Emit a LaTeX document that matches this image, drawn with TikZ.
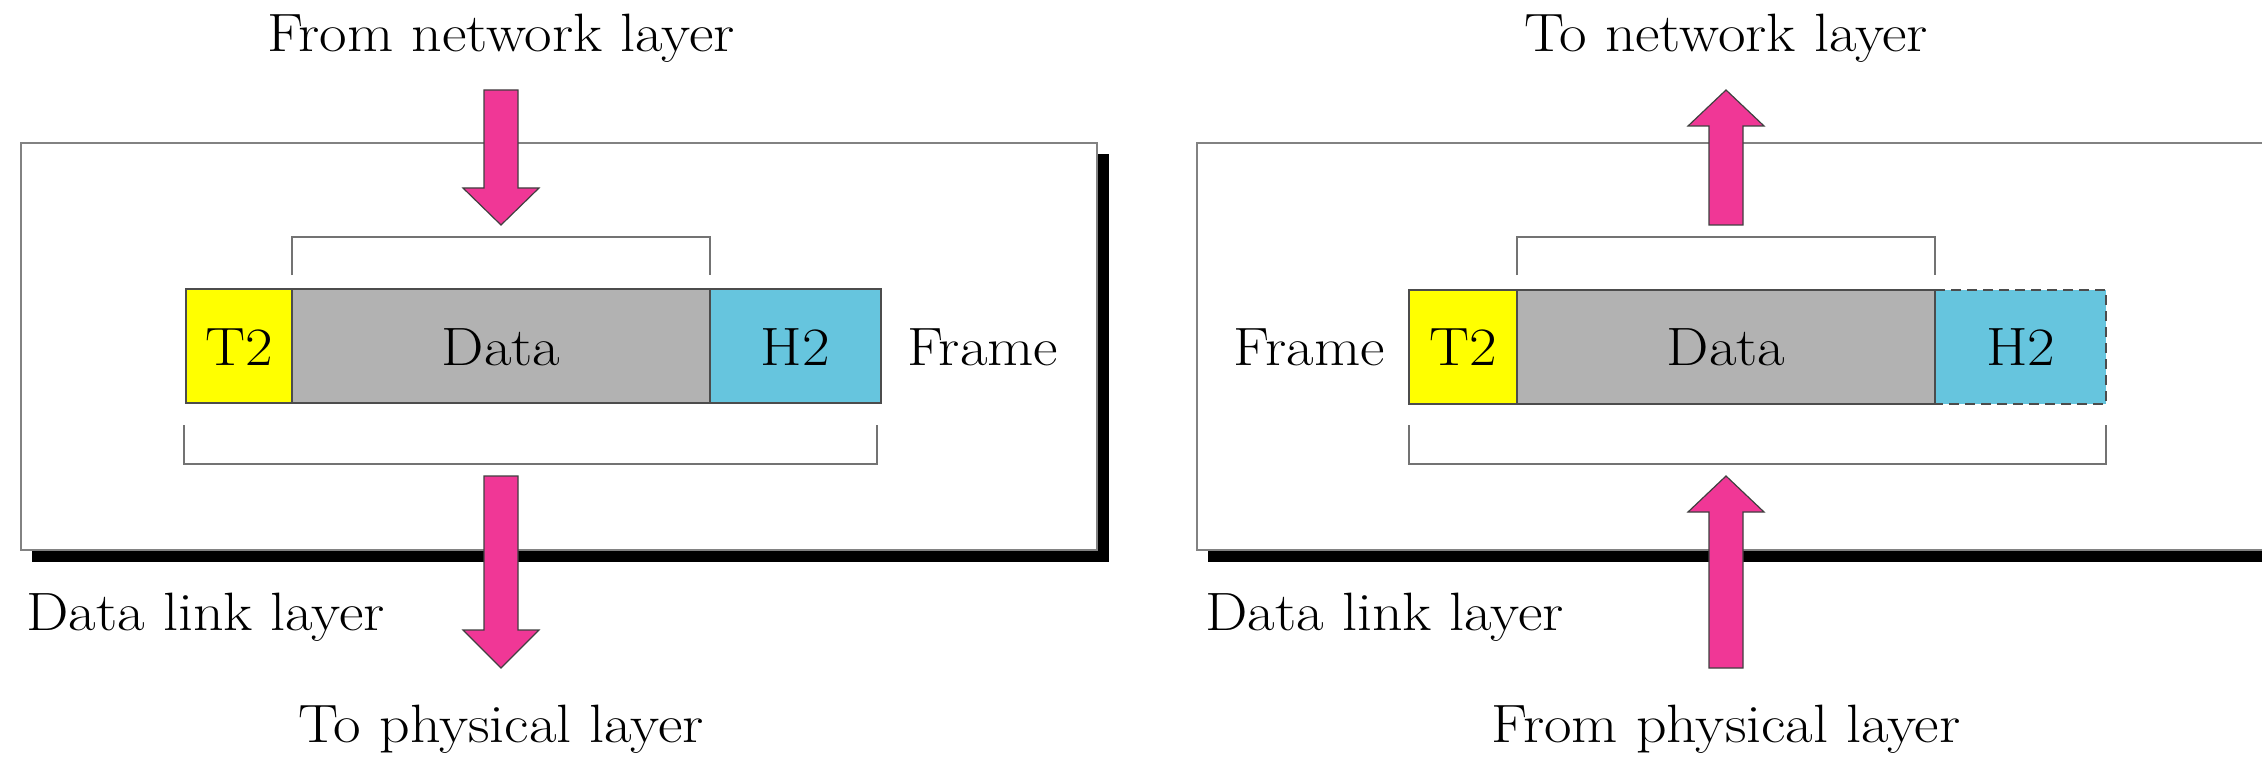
\documentclass[tikz,border=0pt]{standalone}
\usepackage{graphicx}
\definecolor{pinkA}{RGB}{240,55,150}
\definecolor{yellowA}{RGB}{255,255,0}
\definecolor{grayA}{RGB}{178,178,178}
\definecolor{cyanA}{RGB}{102,197,222}
\definecolor{lineA}{RGB}{130,130,130}
\newcommand{\wtxt}[1]{\scalebox{1.11}[1]{#1}}
\begin{document}
\begin{tikzpicture}[x=0.5pt,y=-0.5pt,
  txt/.style={font=\fontsize{27}{32}\selectfont, inner sep=0pt, anchor=base},
  boxline/.style={draw=lineA, line width=1.3pt, fill=white},
  shadowbox/.style={fill=black},
  bracket/.style={draw=black!55, line width=1pt},
  fld/.style={draw=black!70, line width=1pt},
  blockarrow/.style={fill=pinkA, draw=black!75, line width=0.6pt, line join=miter}]
\useasboundingbox (0,0) rectangle (2262,759);
\clip (0,0) rectangle (2262,759);

% ---------- left panel ----------
\fill[shadowbox] (32,154) rectangle (1109,562);
\draw[boxline] (21,143) rectangle (1097,550);

\draw[bracket] (292,275) -- (292,237) -- (710,237) -- (710,275);

\fill[yellowA] (186,289) rectangle (292,403);
\fill[grayA] (292,289) rectangle (710,403);
\fill[cyanA] (710,289) rectangle (881,403);
\draw[fld] (186,289) rectangle (881,403);
\draw[fld] (292,289) -- (292,403);
\draw[fld] (710,289) -- (710,403);

\node[txt] (t2L) at (239,365) {\wtxt{T2}};
\node[txt] (dataL) at (501,365) {\wtxt{Data}};
\node[txt] (h2L) at (795.5,365) {\wtxt{H2}};
\node[txt, anchor=base west] (frameL) at (907,365) {\wtxt{Frame}};

\draw[bracket] (184,425) -- (184,464) -- (877,464) -- (877,425);

\draw[blockarrow] (484,90) -- (518,90) -- (518,188) -- (539,188) -- (501,225) -- (463,188) -- (484,188) -- cycle;
\draw[blockarrow] (484,476) -- (518,476) -- (518,630) -- (539,630) -- (501,668) -- (463,630) -- (484,630) -- cycle;

\node[txt] (fromNet) at (501,52) {\wtxt{From network layer}};
\node[txt] (toPhys) at (501,742) {\wtxt{To physical layer}};
\node[txt, anchor=base west] (dllL) at (26,630) {\wtxt{Data link layer}};

% ---------- right panel ----------
\fill[shadowbox] (1208,154) rectangle (2290,562);
\draw[boxline] (1197,143) rectangle (2273,550);

\draw[bracket] (1517,275) -- (1517,237) -- (1935,237) -- (1935,275);

\fill[yellowA] (1409,290) rectangle (1517,404);
\fill[grayA] (1517,290) rectangle (1935,404);
\fill[cyanA] (1935,290) rectangle (2106,404);
\draw[fld] (1935,290) -- (1409,290) -- (1409,404) -- (1935,404) -- cycle;
\draw[fld] (1517,290) -- (1517,404);
\draw[fld, dash pattern=on 5pt off 3pt] (1935,290) -- (2106,290) -- (2106,404) -- (1935,404);

\node[txt] (t2R) at (1463,365) {\wtxt{T2}};
\node[txt] (dataR) at (1726,365) {\wtxt{Data}};
\node[txt] (h2R) at (2020.5,365) {\wtxt{H2}};
\node[txt, anchor=base east] (frameR) at (1385,365) {\wtxt{Frame}};

\draw[bracket] (1409,425) -- (1409,464) -- (2106,464) -- (2106,425);

\draw[blockarrow] (1709,225) -- (1743,225) -- (1743,126) -- (1764,126) -- (1726,90) -- (1688,126) -- (1709,126) -- cycle;
\draw[blockarrow] (1709,668) -- (1743,668) -- (1743,512) -- (1764,512) -- (1726,476) -- (1688,512) -- (1709,512) -- cycle;

\node[txt] (toNet) at (1726,52) {\wtxt{To network layer}};
\node[txt] (fromPhys) at (1726,742) {\wtxt{From physical layer}};
\node[txt, anchor=base west] (dllR) at (1205,630) {\wtxt{Data link layer}};
\end{tikzpicture}
\end{document}
